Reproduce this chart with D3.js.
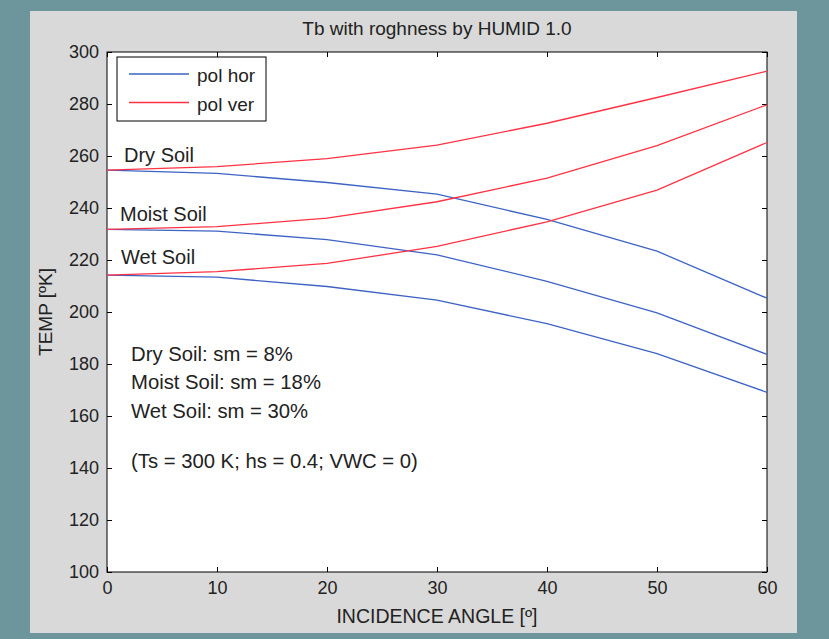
<!DOCTYPE html>
<html>
<head>
<meta charset="utf-8">
<script src="https://cdn.jsdelivr.net/npm/d3@7"></script>
<style>
  body { margin: 0; background: #6c969b; }
  svg { display: block; }
  text { font-family: "Liberation Sans", Arial, sans-serif; fill: #222; }
</style>
</head>
<body>
<div id="chart"></div>
<script>
// Incidence angles (deg) and brightness temperatures (K)
var angles = [0, 10, 20, 30, 40, 50, 60];
var dryVer   = [254.6, 255.9, 259.0, 264.2, 272.6, 282.5, 292.6];
var dryHor   = [254.6, 253.3, 249.8, 245.3, 235.6, 223.4, 205.3];
var moistVer = [231.8, 232.8, 236.1, 242.4, 251.5, 264.0, 279.7];
var moistHor = [231.8, 231.1, 227.8, 222.0, 211.8, 199.7, 183.7];
var wetVer   = [214.2, 215.5, 218.7, 225.2, 234.7, 246.9, 265.2];
var wetHor   = [214.2, 213.4, 209.8, 204.6, 195.5, 184.0, 169.1];
var xTicks = [0, 10, 20, 30, 40, 50, 60];
var yTicks = [100, 120, 140, 160, 180, 200, 220, 240, 260, 280, 300];

var blue = "#3d63c4", red = "#ff3344";

var W = 829, H = 639;
var margin = {top: 52, right: 62, bottom: 67, left: 107},
    width = W - margin.left - margin.right,
    height = H - margin.top - margin.bottom;

var root = d3.select("#chart").append("svg")
  .attr("width", W).attr("height", H);

// figure panel
root.append("rect")
  .attr("x", 30).attr("y", 11).attr("width", 767).attr("height", 622)
  .attr("fill", "#d9d9d9");

var svg = root.append("g")
  .attr("transform", "translate(" + margin.left + "," + margin.top + ")");

var x = d3.scaleLinear().domain([0, 60]).range([0, width]);
var y = d3.scaleLinear().domain([100, 300]).range([height, 0]);

svg.append("rect")
  .attr("width", width).attr("height", height)
  .attr("fill", "white");

// axes (inward ticks on all four sides)
function styleAxis(g) {
  g.select(".domain").remove();
  g.selectAll("line").attr("stroke", "#000");
  g.selectAll("text").style("font-size", "18px").attr("fill", "#222");
}

svg.append("g")
  .attr("transform", "translate(0," + height + ")")
  .call(d3.axisBottom(x).tickValues(xTicks).tickSize(-5).tickPadding(9))
  .call(styleAxis);
svg.append("g")
  .call(d3.axisTop(x).tickValues(xTicks).tickSize(-5).tickFormat(""))
  .call(styleAxis);
svg.append("g")
  .call(d3.axisLeft(y).tickValues(yTicks).tickSize(-5).tickPadding(8))
  .call(styleAxis);
svg.append("g")
  .attr("transform", "translate(" + width + ",0)")
  .call(d3.axisRight(y).tickValues(yTicks).tickSize(-5).tickFormat(""))
  .call(styleAxis);

svg.append("rect")
  .attr("width", width).attr("height", height)
  .attr("fill", "none").attr("stroke", "#000").attr("stroke-width", 1);

// curves
var line = d3.line()
  .x(function(d, i) { return x(angles[i]); })
  .y(function(d) { return y(d); });

var series = [
  {v: dryHor, c: blue}, {v: moistHor, c: blue}, {v: wetHor, c: blue},
  {v: dryVer, c: red}, {v: moistVer, c: red}, {v: wetVer, c: red}
];

svg.selectAll(".curve")
  .data(series)
  .enter()
  .append("path")
  .attr("class", "curve")
  .attr("d", function(d) { return line(d.v); })
  .attr("fill", "none")
  .attr("stroke", function(d) { return d.c; })
  .attr("stroke-width", 1.3);

// curve labels
var labels = [
  {t: "Dry Soil", x: 17, y: 110},
  {t: "Moist Soil", x: 13, y: 169},
  {t: "Wet Soil", x: 14, y: 212}
];
svg.selectAll(".clabel")
  .data(labels)
  .enter()
  .append("text")
  .attr("x", function(d) { return d.x; })
  .attr("y", function(d) { return d.y; })
  .style("font-size", "20px")
  .text(function(d) { return d.t; });

// notes
var notes = [
  {t: "Dry Soil: sm = 8%", y: 309},
  {t: "Moist Soil: sm = 18%", y: 337},
  {t: "Wet Soil: sm = 30%", y: 366},
  {t: "(Ts = 300 K; hs = 0.4; VWC = 0)", y: 416}
];
svg.selectAll(".note")
  .data(notes)
  .enter()
  .append("text")
  .attr("x", 24)
  .attr("y", function(d) { return d.y; })
  .style("font-size", "20.3px")
  .text(function(d) { return d.t; });

// legend
var leg = svg.append("g").attr("transform", "translate(10,5)");
leg.append("rect")
  .attr("width", 149).attr("height", 64)
  .attr("fill", "white").attr("stroke", "#000");
var legItems = [{t: "pol hor", c: blue}, {t: "pol ver", c: red}];
legItems.forEach(function(d, i) {
  var ly = 17 + i * 28.5;
  leg.append("line")
    .attr("x1", 12).attr("x2", 72).attr("y1", ly).attr("y2", ly)
    .attr("stroke", d.c).attr("stroke-width", 1.3);
  leg.append("text")
    .attr("x", 80).attr("y", ly + 8)
    .style("font-size", "19px")
    .text(d.t);
});

// title and axis labels
root.append("text")
  .attr("x", margin.left + width / 2).attr("y", 35)
  .attr("text-anchor", "middle")
  .style("font-size", "19px")
  .text("Tb with roghness by HUMID 1.0");

root.append("text")
  .attr("x", margin.left + width / 2).attr("y", 623)
  .attr("text-anchor", "middle")
  .style("font-size", "19.5px")
  .text("INCIDENCE ANGLE [º]");

root.append("text")
  .attr("transform", "translate(52," + (margin.top + height / 2) + ")rotate(-90)")
  .attr("text-anchor", "middle")
  .style("font-size", "19px")
  .text("TEMP [ºK]");
</script>
</body>
</html>
